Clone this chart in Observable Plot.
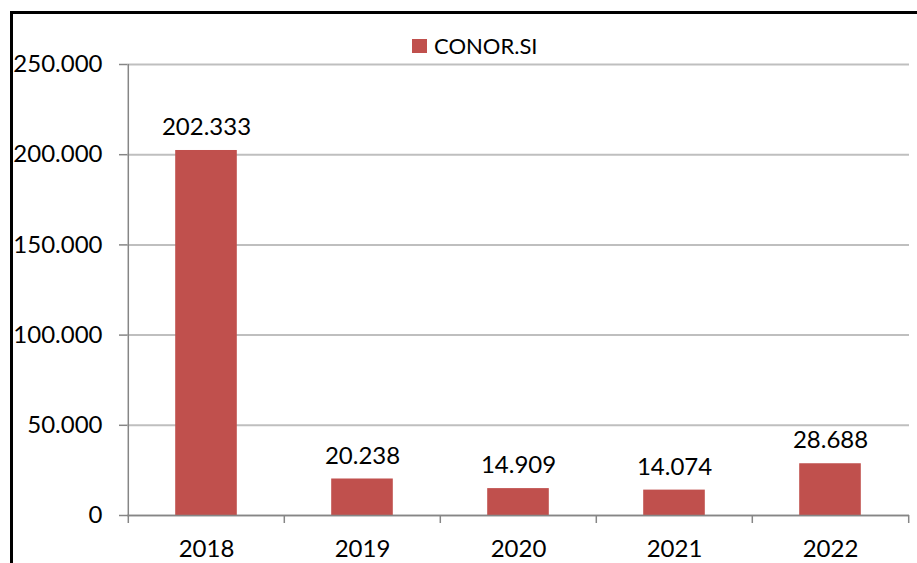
<!DOCTYPE html>
<html>
<head>
<meta charset="utf-8">
<script src="https://cdn.jsdelivr.net/npm/d3@7"></script>
<script src="https://cdn.jsdelivr.net/npm/@observablehq/plot@0.6"></script>
<style>
  html, body { margin: 0; padding: 0; background: #fff; overflow: hidden; }
  #wrap { position: relative; width: 917px; height: 563px; overflow: hidden; }
  #frame { position: absolute; left: 10px; top: 11px; width: 2000px; height: 2000px; border-left: 3px solid #000; border-top: 3px solid #000; }
  #chart { position: absolute; left: 0; top: 0; }
  #legend { position: absolute; left: 412px; top: 32px; font-family: Lato, sans-serif; font-size: 22px; color: #000; display: flex; align-items: center; }
  #legend .sw { width: 15px; height: 14px; background: #c0504d; margin-right: 7px; }
</style>
</head>
<body>
<div id="wrap">
  <div id="frame"></div>
  <div id="chart"></div>
  <div id="legend"><span class="sw"></span><span>CONOR.SI</span></div>
</div>
<script>
const years = ["2018", "2019", "2020", "2021", "2022"];
const values = [202333, 20238, 14909, 14074, 28688];
const yTicks = [0, 50000, 100000, 150000, 200000, 250000];
const seriesName = "CONOR.SI";

const data = years.map((year, i) => ({year, value: values[i]}));
const locale = d3.formatLocale({decimal: ",", thousands: ".", grouping: [3], currency: ["", ""]});
const fmt = locale.format(",d");

const W = 917, H = 563, mL = 127, mR = 8, mT = 64, mB = 48;
const bw = (W - mL - mR) / years.length;
const barW = 62;
const inset = (bw - barW) / 2;
const axisColor = "#868686";
const fs = 24;

const chart = Plot.plot({
  width: W,
  height: H,
  marginLeft: mL,
  marginRight: mR,
  marginTop: mT,
  marginBottom: mB,
  style: {fontFamily: "Lato, sans-serif", fontSize: fs + "px", color: "#000", background: "transparent"},
  x: {domain: years, padding: 0, label: null},
  y: {domain: [0, 250000], label: null},
  marks: [
    Plot.gridY(yTicks, {stroke: "#bfbfbf", strokeOpacity: 1, strokeWidth: 2}),
    Plot.barY(data, {x: "year", y: "value", fill: "#c0504d", insetLeft: inset, insetRight: inset}),
    Plot.ruleY([0], {stroke: axisColor, strokeWidth: 1.5}),
    Plot.ruleX([years[0]], {dx: -bw / 2, stroke: axisColor, strokeWidth: 1.5}),
    Plot.ruleX(years, {dx: -bw / 2, stroke: axisColor, strokeWidth: 1.5, insetTop: H - mT - mB, insetBottom: -8}),
    Plot.ruleX([years[years.length - 1]], {dx: bw / 2, stroke: axisColor, strokeWidth: 1.5, insetTop: H - mT - mB, insetBottom: -8}),
    Plot.axisY(yTicks, {tickSize: 8, tickPadding: 17, tickFormat: fmt, stroke: axisColor, strokeWidth: 1.5, fontSize: fs}),
    Plot.axisX({tickSize: 0, tickPadding: 24, fontSize: fs}),
    Plot.text(data, {x: "year", y: "value", text: d => fmt(d.value), dy: -23, lineAnchor: "middle", fontSize: fs})
  ]
});
document.getElementById("chart").appendChild(chart);
</script>
</body>
</html>
